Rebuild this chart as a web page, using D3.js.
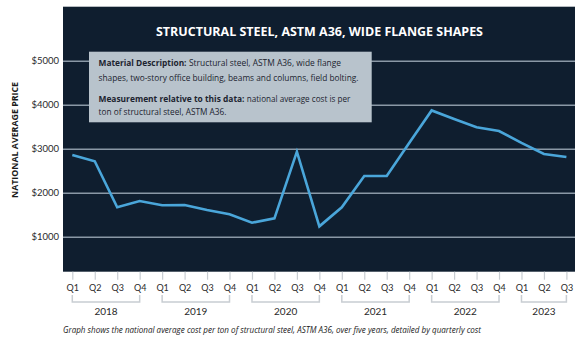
<!DOCTYPE html>
<html><head><meta charset="utf-8">
<script src="https://cdn.jsdelivr.net/npm/d3@7"></script>
<style>
html,body{margin:0;padding:0;background:#fff;}
svg{display:block;}
</style></head>
<body><svg id="c" width="580" height="341"></svg>
<script>
const years = ["2018","2019","2020","2021","2022","2023"];
const quarters = ["Q1","Q2","Q3","Q4"];
const periods = [
 "2018 Q1","2018 Q2","2018 Q3","2018 Q4",
 "2019 Q1","2019 Q2","2019 Q3","2019 Q4",
 "2020 Q1","2020 Q2","2020 Q3","2020 Q4",
 "2021 Q1","2021 Q2","2021 Q3","2021 Q4",
 "2022 Q1","2022 Q2","2022 Q3","2022 Q4",
 "2023 Q1","2023 Q2","2023 Q3"];
const prices = [2857,2714,1668,1811, 1714,1720,1607,1509, 1318,1418,2932,1235, 1668,2380,2380,3130, 3870,3675,3486,3402, 3132,2880,2811];
const yTicks = [1000,2000,3000,4000,5000];
const title = "STRUCTURAL STEEL, ASTM A36, WIDE FLANGE SHAPES";
const yTitle = "NATIONAL AVERAGE PRICE";
const caption = "Graph shows the national average cost per ton of structural steel, ASTM A36, over five years, detailed by quarterly cost";

const svg = d3.select("#c");
const P = {l:63, r:575, t:6.7, b:271.7};
const x = d3.scalePoint().domain(periods).range([72.3, 566.4]);
const y = d3.scaleLinear().domain([0,5000]).range([280.7, 60.7]);

svg.append("rect").attr("x",P.l).attr("y",P.t).attr("width",P.r-P.l).attr("height",P.b-P.t).attr("fill","#0f1e2f");

// gridlines
const grid = svg.append("g").attr("transform",`translate(${P.l},0)`)
  .call(d3.axisRight(y).tickValues(yTicks).tickSize(P.r-P.l).tickFormat(""));
grid.select(".domain").remove();
grid.selectAll("line").attr("stroke","#8a98a6").attr("stroke-width",1.4);

// y labels
const yl = svg.append("g").attr("transform",`translate(${P.l},0)`)
  .call(d3.axisLeft(y).tickValues(yTicks).tickSize(0).tickPadding(4).tickFormat(d=>"$"+d));
yl.select(".domain").remove();
yl.selectAll("text").attr("font-family","Lato, 'Open Sans', sans-serif").attr("font-size",9.5).attr("fill","#2a2a2a");

svg.append("text").attr("transform","translate(17.5,140) rotate(-90)")
  .attr("text-anchor","middle").attr("font-family","'Open Sans', sans-serif").attr("font-weight","bold")
  .attr("font-size",8).attr("fill","#1a1a1a").attr("textLength",116).attr("lengthAdjust","spacingAndGlyphs").text(yTitle);

// title
svg.append("text").attr("x",319.5).attr("y",36).attr("text-anchor","middle")
  .attr("font-family","'Open Sans', sans-serif").attr("font-weight","bold").attr("font-size",11.5)
  .attr("fill","#ffffff").attr("textLength",327).attr("lengthAdjust","spacingAndGlyphs").text(title);

// info box
svg.append("rect").attr("x",89).attr("y",51.7).attr("width",282.7).attr("height",70.6).attr("fill","#b8c3cc");
const boxRuns = [
  {s:"Material Description:", bold:true, x:98.5, y:66, w:88},
  {s:"Structural steel, ASTM A36, wide flange", bold:false, x:189, y:66, w:152},
  {s:"shapes, two-story office building, beams and columns, field bolting.", bold:false, x:98.5, y:80.5, w:260},
  {s:"Measurement relative to this data:", bold:true, x:98.5, y:101.5, w:146},
  {s:"national average cost is per", bold:false, x:246.7, y:101.5, w:103.6},
  {s:"ton of structural steel, ASTM A36.", bold:false, x:98.5, y:114.5, w:128}
];
boxRuns.forEach(r=>{
  svg.append("text").attr("x",r.x).attr("y",r.y).attr("font-family","'Open Sans', sans-serif")
    .attr("font-size",8.4).attr("font-weight",r.bold?"bold":"normal").attr("fill","#1c2430")
    .attr("textLength",r.w).attr("lengthAdjust","spacingAndGlyphs").text(r.s);
});

// line
svg.append("path").datum(prices)
  .attr("d", d3.line().x((d,i)=>x(periods[i])).y(d=>y(d)))
  .attr("fill","none").attr("stroke","#4aa6da").attr("stroke-width",2.6).attr("stroke-linejoin","miter");

// x axis
const xa = svg.append("g").attr("transform",`translate(0,${P.b})`)
  .call(d3.axisBottom(x).tickSize(8).tickPadding(5).tickFormat(d=>d.split(" ")[1]));
xa.select(".domain").remove();
xa.selectAll("line").attr("stroke","#c8cdd2").attr("stroke-width",1.2);
xa.selectAll("text").attr("font-family","Lato, 'Open Sans', sans-serif").attr("font-size",9).attr("fill","#2a2a2a");

// year brackets
years.forEach(yr=>{
  const ps = periods.filter(p=>p.startsWith(yr));
  const x0 = x(ps[0]), x1 = x(ps[ps.length-1]);
  svg.append("path").attr("d",`M${x0},295V302H${x1}V295`).attr("fill","none").attr("stroke","#c8cdd2").attr("stroke-width",1.5);
  svg.append("text").attr("x",(x0+x1)/2).attr("y",315.3).attr("text-anchor","middle")
    .attr("font-family","Lato, 'Open Sans', sans-serif").attr("font-size",10).attr("fill","#2a2a2a").text(yr);
});

// caption
svg.append("text").attr("x",63).attr("y",332.5).attr("font-family","'Open Sans', sans-serif").attr("font-style","italic")
  .attr("font-size",9).attr("fill","#1a1a1a").attr("textLength",418).attr("lengthAdjust","spacingAndGlyphs").text(caption);
</script></body></html>
